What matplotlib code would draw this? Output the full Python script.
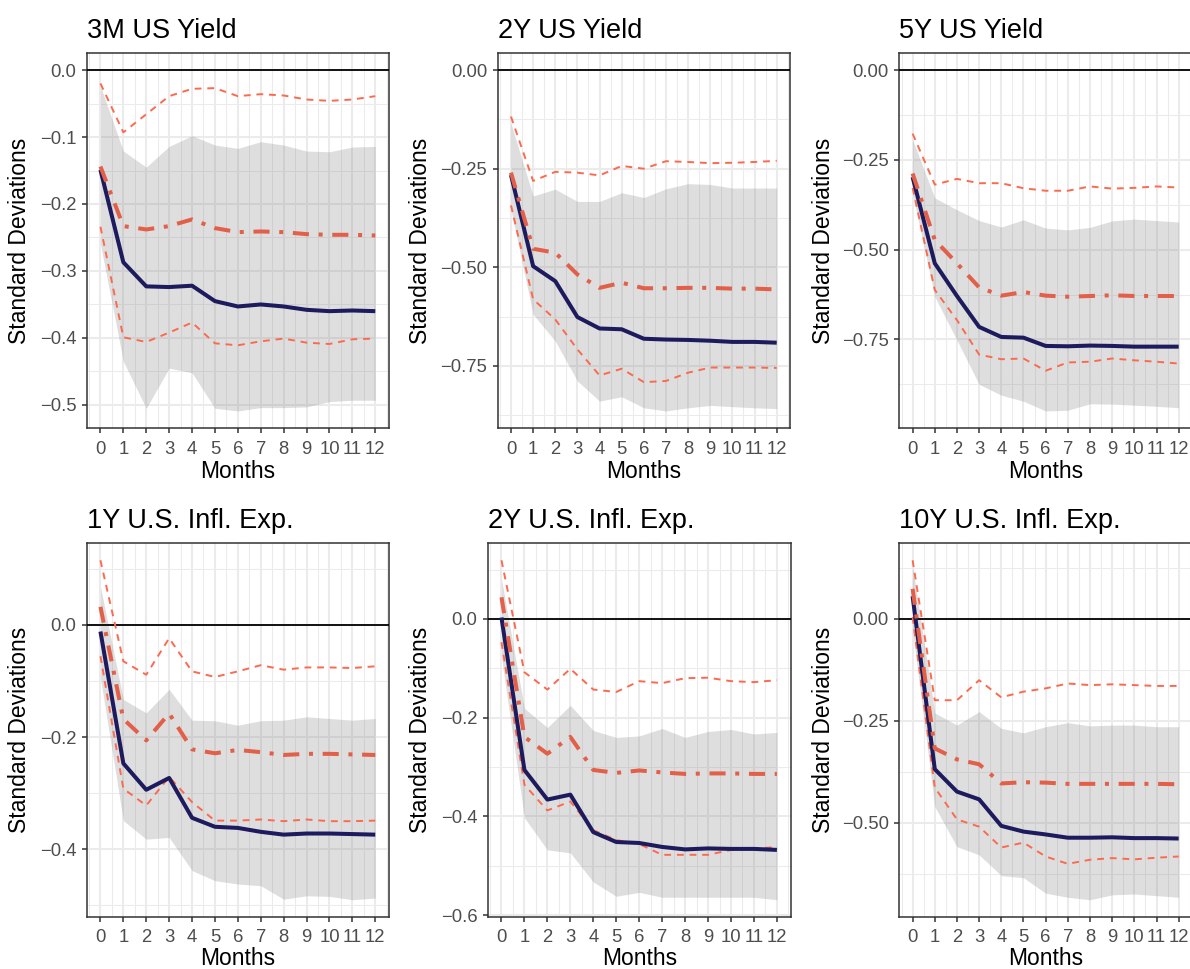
import matplotlib
matplotlib.use("Agg")
import matplotlib.pyplot as plt
import numpy as np
from matplotlib.ticker import MultipleLocator

plt.rcParams['font.family'] = ['Liberation Sans', 'DejaVu Sans']

months = list(range(13))

titles = ["3M US Yield", "2Y US Yield", "5Y US Yield",
          "1Y U.S. Infl. Exp.", "2Y U.S. Infl. Exp.", "10Y U.S. Infl. Exp."]

# baseline response (solid navy)
irf = [
    [-0.149, -0.287, -0.323, -0.324, -0.322, -0.345, -0.353, -0.350, -0.353, -0.358, -0.360, -0.359, -0.360],
    [-0.266, -0.497, -0.535, -0.626, -0.655, -0.657, -0.681, -0.683, -0.684, -0.686, -0.689, -0.689, -0.691],
    [-0.298, -0.538, -0.629, -0.715, -0.743, -0.745, -0.768, -0.769, -0.767, -0.768, -0.770, -0.770, -0.770],
    [-0.012, -0.247, -0.294, -0.273, -0.344, -0.360, -0.362, -0.369, -0.374, -0.372, -0.372, -0.373, -0.374],
    [0.003, -0.306, -0.366, -0.356, -0.432, -0.452, -0.454, -0.462, -0.467, -0.465, -0.466, -0.466, -0.468],
    [0.055, -0.369, -0.424, -0.443, -0.508, -0.522, -0.529, -0.537, -0.537, -0.536, -0.538, -0.538, -0.539],
]
band_lo = [
    [-0.260, -0.435, -0.505, -0.445, -0.452, -0.505, -0.509, -0.504, -0.504, -0.503, -0.495, -0.493, -0.493],
    [-0.355, -0.619, -0.687, -0.788, -0.839, -0.828, -0.856, -0.864, -0.856, -0.850, -0.853, -0.856, -0.858],
    [-0.345, -0.631, -0.752, -0.875, -0.905, -0.922, -0.949, -0.947, -0.929, -0.930, -0.933, -0.936, -0.940],
    [-0.095, -0.349, -0.382, -0.379, -0.438, -0.456, -0.462, -0.465, -0.489, -0.483, -0.484, -0.490, -0.487],
    [-0.077, -0.403, -0.468, -0.474, -0.533, -0.562, -0.554, -0.564, -0.564, -0.564, -0.564, -0.564, -0.569],
    [-0.029, -0.461, -0.559, -0.579, -0.630, -0.635, -0.673, -0.683, -0.689, -0.677, -0.675, -0.679, -0.683],
]
band_hi = [
    [-0.024, -0.121, -0.145, -0.114, -0.098, -0.112, -0.117, -0.107, -0.112, -0.121, -0.122, -0.115, -0.114],
    [-0.135, -0.319, -0.302, -0.333, -0.333, -0.311, -0.323, -0.301, -0.288, -0.290, -0.299, -0.299, -0.299],
    [-0.194, -0.356, -0.389, -0.419, -0.437, -0.417, -0.440, -0.445, -0.438, -0.420, -0.415, -0.419, -0.423],
    [0.068, -0.133, -0.157, -0.115, -0.170, -0.171, -0.179, -0.171, -0.170, -0.164, -0.167, -0.170, -0.167],
    [0.081, -0.181, -0.220, -0.175, -0.226, -0.240, -0.237, -0.222, -0.240, -0.228, -0.224, -0.233, -0.230],
    [0.128, -0.231, -0.261, -0.228, -0.269, -0.280, -0.265, -0.255, -0.263, -0.261, -0.261, -0.265, -0.265],
]
# alternative response (dot-dash) with its bounds (dashed)
alt = [
    [-0.144, -0.233, -0.238, -0.233, -0.223, -0.236, -0.242, -0.241, -0.242, -0.245, -0.246, -0.246, -0.247],
    [-0.260, -0.453, -0.463, -0.518, -0.552, -0.539, -0.553, -0.553, -0.552, -0.552, -0.554, -0.554, -0.556],
    [-0.288, -0.473, -0.538, -0.605, -0.628, -0.618, -0.628, -0.631, -0.629, -0.627, -0.629, -0.629, -0.629],
    [0.032, -0.168, -0.206, -0.158, -0.222, -0.229, -0.223, -0.227, -0.232, -0.230, -0.230, -0.231, -0.232],
    [0.044, -0.239, -0.273, -0.239, -0.306, -0.312, -0.307, -0.311, -0.314, -0.313, -0.313, -0.314, -0.314],
    [0.073, -0.318, -0.345, -0.357, -0.404, -0.401, -0.402, -0.405, -0.405, -0.405, -0.405, -0.405, -0.406],
]
alt_hi = [
    [-0.020, -0.093, -0.066, -0.039, -0.028, -0.027, -0.039, -0.036, -0.038, -0.044, -0.046, -0.044, -0.039],
    [-0.118, -0.281, -0.258, -0.260, -0.267, -0.243, -0.250, -0.231, -0.233, -0.236, -0.235, -0.233, -0.230],
    [-0.177, -0.319, -0.303, -0.315, -0.315, -0.329, -0.336, -0.336, -0.324, -0.330, -0.328, -0.324, -0.327],
    [0.115, -0.065, -0.089, -0.024, -0.083, -0.093, -0.083, -0.072, -0.080, -0.076, -0.076, -0.077, -0.074],
    [0.119, -0.108, -0.143, -0.101, -0.143, -0.148, -0.126, -0.130, -0.120, -0.119, -0.126, -0.128, -0.124],
    [0.143, -0.200, -0.200, -0.151, -0.193, -0.179, -0.171, -0.159, -0.163, -0.161, -0.163, -0.165, -0.165],
]
alt_lo = [
    [-0.234, -0.399, -0.406, -0.392, -0.377, -0.408, -0.411, -0.405, -0.401, -0.407, -0.409, -0.402, -0.401],
    [-0.343, -0.581, -0.632, -0.708, -0.774, -0.757, -0.791, -0.788, -0.767, -0.754, -0.754, -0.754, -0.755],
    [-0.328, -0.612, -0.696, -0.792, -0.805, -0.803, -0.837, -0.814, -0.812, -0.803, -0.808, -0.812, -0.817],
    [-0.056, -0.292, -0.322, -0.271, -0.316, -0.349, -0.349, -0.347, -0.350, -0.347, -0.350, -0.350, -0.349],
    [-0.047, -0.336, -0.388, -0.370, -0.428, -0.448, -0.456, -0.478, -0.478, -0.478, -0.468, -0.466, -0.462],
    [0.004, -0.414, -0.492, -0.510, -0.561, -0.549, -0.583, -0.601, -0.591, -0.587, -0.590, -0.586, -0.583],
]

y_steps = [0.1, 0.25, 0.25, 0.2, 0.2, 0.25]
y_fmt = ["{:.1f}", "{:.2f}", "{:.2f}", "{:.1f}", "{:.1f}", "{:.2f}"]

navy = "#1d1b5e"
red_dd = "#e2604a"
red_dash = "#fb6a4f"
grid_col = "#ebebeb"
frame_col = "#333333"

W, H = 1190, 969
fig = plt.figure(figsize=(W / 100, H / 100), dpi=100)

# panel boxes in pixels: left, right, top, bottom
boxes = [
    (86.7, 389.0, 53.0, 428.0),
    (497.7, 790.0, 53.0, 428.0),
    (899.3, 1192.0, 53.0, 428.0),
    (86.7, 389.0, 543.3, 916.7),
    (487.7, 790.7, 543.3, 916.7),
    (899.3, 1192.0, 543.3, 916.7),
]
ylabel_x = [20.0, 420.7, 823.3]

for i in range(6):
    l, r, t, b = boxes[i]
    ax = fig.add_axes([l / W, 1 - b / H, (r - l) / W, (b - t) / H])

    lo_all = min(min(band_lo[i]), min(alt_lo[i]), min(irf[i]), 0)
    hi_all = max(max(band_hi[i]), max(alt_hi[i]), max(irf[i]), 0)
    pad = (hi_all - lo_all) * 0.05
    ax.set_ylim(lo_all - pad, hi_all + pad)
    ax.set_xlim(-0.6, 12.6)

    step = y_steps[i]
    ax.yaxis.set_major_locator(MultipleLocator(step))
    ax.yaxis.set_minor_locator(MultipleLocator(step / 2))
    ax.xaxis.set_major_locator(MultipleLocator(1))
    ax.xaxis.set_minor_locator(MultipleLocator(0.5))
    ax.set_xticks(months)
    ax.set_xticklabels([str(m) for m in months])
    yt = [v for v in ax.get_yticks() if lo_all - pad <= v <= hi_all + pad]
    ax.set_yticks(yt)
    ax.set_yticklabels([y_fmt[i].format(v).replace("-", "\u2212") if abs(v) > 1e-9
                        else y_fmt[i].format(0.0) for v in yt])

    ax.grid(True, which="major", color=grid_col, lw=1.5)
    ax.grid(True, which="minor", color=grid_col, lw=0.75)
    ax.set_axisbelow(True)

    ax.fill_between(months, band_lo[i], band_hi[i], color="#7f7f7f", alpha=0.25, lw=0, zorder=2)
    ax.axhline(0, color="black", lw=1.3, zorder=3)
    ax.plot(months, alt_hi[i], color=red_dash, lw=1.4, dashes=(3.5, 3), zorder=4)
    ax.plot(months, alt_lo[i], color=red_dash, lw=1.4, dashes=(3.5, 3), zorder=4)
    ax.plot(months, irf[i], color=navy, lw=2.9, zorder=5, solid_capstyle="butt")
    ax.plot(months, alt[i], color=red_dd, lw=2.9, dashes=(4, 2.4, 1, 2.4), zorder=6)

    for s in ax.spines.values():
        s.set_color(frame_col)
        s.set_linewidth(1.1)

    ax.tick_params(which="major", length=3.5, width=1.1, color=frame_col,
                   labelsize=13.3, labelcolor="#4d4d4d")
    ax.tick_params(axis="x", which="major", pad=5.5)
    ax.tick_params(axis="y", which="major", pad=4)
    ax.tick_params(which="minor", length=0)

    ax.set_title(titles[i], loc="left", fontsize=19.5, pad=11, color="black")
    ax.set_xlabel("Months", fontsize=16.5, labelpad=2 if i < 3 else 0.5)
    ax.set_ylabel("Standard Deviations", fontsize=16.5, va="center")
    ax.yaxis.set_label_coords((ylabel_x[i % 3] - l) / (r - l), 0.5)

fig.savefig("out.png", dpi=100)
